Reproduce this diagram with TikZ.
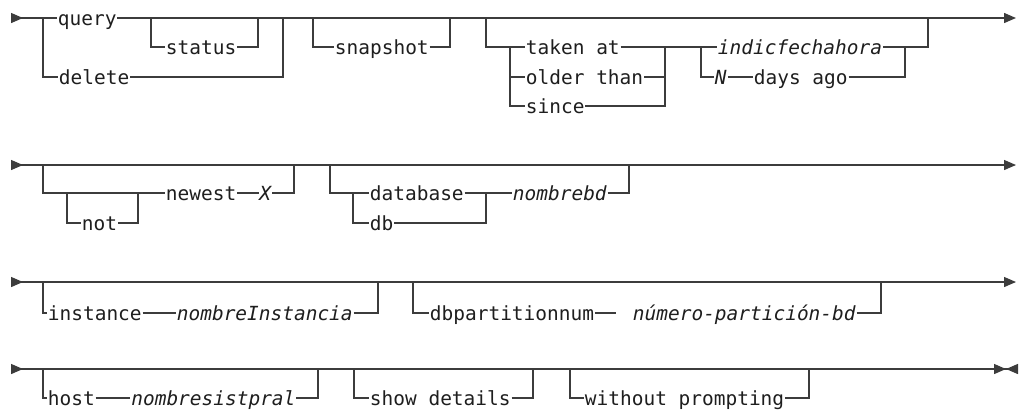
\documentclass[tikz,border=0pt]{standalone}
\usepackage{fontspec}
\setmonofont{DejaVu Sans Mono}
\usetikzlibrary{positioning, arrows.meta}
\definecolor{RailGray}{HTML}{3C3C3C}
\definecolor{InkDark}{HTML}{1E1E1E}

\begin{document}
\begin{tikzpicture}[
    x=0.75pt, y=-0.75pt,
    font=\ttfamily\fontsize{14.6pt}{16pt}\selectfont,
    rail/.style={draw=RailGray, line width=1pt},
    railrow/.style={rail, {Triangle[reversed, length=9pt, width=7.5pt]}-{Triangle[length=9pt, width=7.5pt]}},
    raillast/.style={rail, {Triangle[reversed, length=9pt, width=7.5pt]}-{Triangle[length=9pt, width=7.5pt, sep=0pt] Triangle[reversed, length=9pt, width=7.5pt]}},
    kw/.style={anchor=west, inner xsep=0.5pt, inner ysep=0pt, text height=12pt, text depth=0.8pt, text=InkDark},
    var/.style={kw, font=\ttfamily\itshape\fontsize{14.6pt}{16pt}\selectfont}
  ]
    \useasboundingbox (0,0) rectangle (1019,412);

    % Row 1
    \coordinate (s1) at (11,18);
    \coordinate (e1) at (1016,18);
    \node[kw] (query) at (57,18) {query};
    \node[kw] (status) at (165,47) {status};
    \node[kw] (delete) at (58,77) {delete};
    \node[kw] (snapshot) at (334,47) {snapshot};
    \node[kw] (taken) at (525,47) {taken at};
    \node[kw] (older) at (525,77) {older than};
    \node[kw] (since) at (525,106) {since};
    \node[var] (fecha) at (717,47) {indicfechahora};
    \node[var] (n) at (714,77) {N};
    \node[kw, right=19pt of n] (days) {days ago};

    \coordinate (qd1) at (43,18);
    \coordinate (qd2) at (283,18);
    \coordinate (st1) at (151,18);
    \coordinate (st2) at (258,18);
    \coordinate (sn1) at (313,18);
    \coordinate (sn2) at (450,18);
    \coordinate (tm1) at (486,18);
    \coordinate (tm2) at (928,18);
    \coordinate (tc1) at (510,47);
    \coordinate (tc2) at (665,47);
    \coordinate (fc1) at (701,47);
    \coordinate (fc2) at (905,47);

    \draw[rail, {Triangle[reversed, length=9pt, width=7.5pt]}-] (s1) -- (query.west);
    \draw[rail, -{Triangle[length=9pt, width=7.5pt]}] (query.east) -- (e1);
    \draw[rail] (qd1) |- (delete.west);
    \draw[rail] (delete.east) -| (qd2);
    \draw[rail] (st1) |- (status.west);
    \draw[rail] (status.east) -| (st2);
    \draw[rail] (sn1) |- (snapshot.west);
    \draw[rail] (snapshot.east) -| (sn2);
    \draw[rail] (tm1) |- (taken.west);
    \draw[rail] (tc1) |- (since.west);
    \draw[rail] (tc1 |- older.west) -- (older.west);
    \draw[rail] (taken.east) -- (fecha.west);
    \draw[rail] (older.east) -| (tc2);
    \draw[rail] (since.east) -| (tc2);
    \draw[rail] (fc1) |- (n.west);
    \draw[rail] (n.east) -- (days.west);
    \draw[rail] (days.east) -| (fc2);
    \draw[rail] (fecha.east) -| (tm2);

    % Row 2
    \coordinate (s2) at (11,165);
    \coordinate (e2) at (1016,165);
    \node[kw] (newest) at (165,193) {newest};
    \node[var, right=16pt of newest] (x) {X};
    \node[kw] (not) at (81,223) {not};
    \node[kw] (database) at (369,193) {database};
    \node[kw] (db) at (369,223) {db};
    \node[var] (nombrebd) at (512,193) {nombrebd};

    \coordinate (nw1) at (43,165);
    \coordinate (nw2) at (294,165);
    \coordinate (nt1) at (67,193);
    \coordinate (nt2) at (138,193);
    \coordinate (dn1) at (330,165);
    \coordinate (dn2) at (629,165);
    \coordinate (dn3) at (353,193);
    \coordinate (dn4) at (486,193);

    \draw[railrow] (s2) -- (e2);
    \draw[rail] (nw1) |- (newest.west);
    \draw[rail] (nt1) |- (not.west);
    \draw[rail] (not.east) -| (nt2);
    \draw[rail] (newest.east) -- (x.west);
    \draw[rail] (x.east) -| (nw2);
    \draw[rail] (dn1) |- (database.west);
    \draw[rail] (dn3) |- (db.west);
    \draw[rail] (database.east) -- (nombrebd.west);
    \draw[rail] (db.east) -| (dn4);
    \draw[rail] (nombrebd.east) -| (dn2);

    % Row 3
    \coordinate (s3) at (11,282);
    \coordinate (e3) at (1016,282);
    \node[kw] (instance) at (47,313) {instance};
    \node[var, right=25pt of instance] (ninst) {nombreInstancia};
    \node[kw] (dbpart) at (429,313) {dbpartitionnum};
    \coordinate (dpd) at (616,313);
    \node[var] (numpart) at (632,313) {número-partición-bd};

    \coordinate (in1) at (43,282);
    \coordinate (in2) at (378,282);
    \coordinate (dp1) at (413,282);
    \coordinate (dp2) at (881,282);

    \draw[railrow] (s3) -- (e3);
    \draw[rail] (in1) |- (instance.west);
    \draw[rail] (instance.east) -- (ninst.west);
    \draw[rail] (ninst.east) -| (in2);
    \draw[rail] (dp1) |- (dbpart.west);
    \draw[rail] (dbpart.east) -- (dpd);
    \draw[rail] (numpart.east) -| (dp2);

    % Row 4
    \coordinate (s4) at (11,369);
    \coordinate (e4) at (1018,369);
    \node[kw] (host) at (47,398) {host};
    \node[var, right=26pt of host] (nhost) {nombresistpral};
    \node[kw] (show) at (369,398) {show details};
    \node[kw] (noprompt) at (584,398) {without prompting};

    \coordinate (hs1) at (43,369);
    \coordinate (hs2) at (318,369);
    \coordinate (sd1) at (354,369);
    \coordinate (sd2) at (533,369);
    \coordinate (wp1) at (570,369);
    \coordinate (wp2) at (809,369);
    \coordinate (tk1) at (815,369);
    \coordinate (tk2) at (838,369);

    \draw[raillast] (s4) -- (e4);
    \draw[rail] (hs1) |- (host.west);
    \draw[rail] (host.east) -- (nhost.west);
    \draw[rail] (nhost.east) -| (hs2);
    \draw[rail] (sd1) |- (show.west);
    \draw[rail] (show.east) -| (sd2);
    \draw[rail] (wp1) |- (noprompt.west);
    \draw[rail] (noprompt.east) -| (wp2);
    \draw[rail, line width=2pt] (tk1) -- (tk2);
  \end{tikzpicture}
\end{document}
